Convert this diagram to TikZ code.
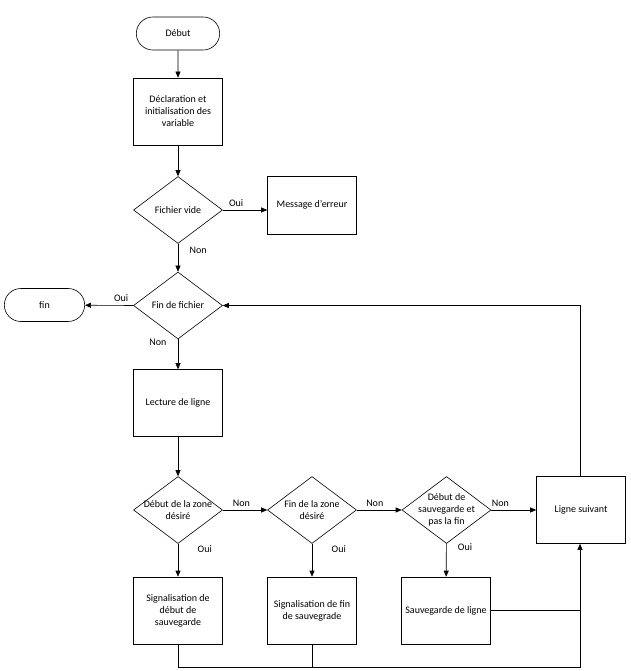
\documentclass[tikz,border=0pt]{standalone}
\usepackage{fontspec}
\setmainfont{Carlito}
\usetikzlibrary{shapes.geometric,shapes.misc,arrows.meta}
\tikzset{boite/.style={draw, minimum width=89pt, minimum height=67pt, align=center, inner sep=2pt},
terminal/.style={draw, rounded rectangle, minimum width=90pt, minimum height=33pt},
%texte du losange en label pour garder sa taille
test/.style={draw, diamond, minimum width=89pt, minimum height=67pt, inner sep=0pt, label={[align=center]center:#1}},
fleche/.style={-{Triangle[length=6pt,width=5pt]}}}

\begin{document}
\begin{tikzpicture}[x=1pt,y=-1pt,line width=0.6pt,font=\fontsize{10}{12}\selectfont]
		\useasboundingbox (0,0) rectangle (630,671);

		\node[terminal] (debut) at (178,33.5) {Début};
		\node[boite] (decl) at (178,111.5) {Déclaration et\\initialisation des\\variable};
		\node[test={Fichier vide}] (vide) at (178,210) {};
		\node[boite, minimum height=58pt] (erreur) at (312,205) {Message d’erreur};
		\node[test={Fin de fichier}] (finfich) at (178,305.5) {};
		\node[terminal, minimum width=87pt] (fin) at (44.5,305) {fin};
		\node[boite] (lecture) at (178,403) {Lecture de ligne};

		\node[test={Début de la zone\\désiré}] (zdebut) at (178,510) {};
		\node[test={Fin de la zone\\désiré}] (zfin) at (312,510) {};
		\node[test={Début de\\sauvegarde et\\pas la fin}] (sauvtest) at (446.5,510) {};
		\node[boite] (suivant) at (581,510) {Ligne suivant};

		\node[boite] (sigdeb) at (178,610.5) {Signalisation de\\début de\\sauvegarde};
		\node[boite] (sigfin) at (312,610.5) {Signalisation de fin\\de sauvegrade};
		\node[boite] (sauv) at (446,610.5) {Sauvegarde de ligne};
		\coordinate (bas) at (580,667);

		\draw[fleche] (debut) -- (decl);
		\draw[fleche] (decl) -- (vide);
		\draw[fleche] (vide.east) -- node[pos=0.3,above] {Oui} (vide.east -| erreur.west);
		\draw[fleche] (vide) -- node[pos=0.25,right=8pt] {Non} (finfich);
		\draw[fleche] (finfich.west) -- node[pos=0.25,above] {Oui} (fin);
		\draw[fleche] (finfich) -- node[pos=0.1,left=8pt] {Non} (lecture);
		\draw[fleche] (lecture) -- (zdebut);

		\draw[fleche] (zdebut) -- node[pos=0.42,above] {Non} (zfin);
		\draw[fleche] (zfin) -- node[pos=0.4,above] {Non} (sauvtest);
		\draw[fleche] (sauvtest) -- node[pos=0.2,above] {Non} (suivant);
		\draw[fleche] (zdebut) -- node[pos=0.15,right=16pt] {Oui} (sigdeb);
		\draw[fleche] (zfin) -- node[pos=0.15,right=16pt] {Oui} (sigfin);
		\draw[fleche] (sauvtest) -- node[pos=0.1,right=8pt] {Oui} (sauv);

		\draw[fleche] (suivant.north -| bas) |- (finfich.east);
		\draw[fleche] (sigdeb.south) |- (bas) -- (suivant.south -| bas);
		\draw (sigfin.south) -- (sigfin.south |- bas);
		\draw (sauv.east) -- (sauv.east -| bas);

	\end{tikzpicture}
\end{document}
